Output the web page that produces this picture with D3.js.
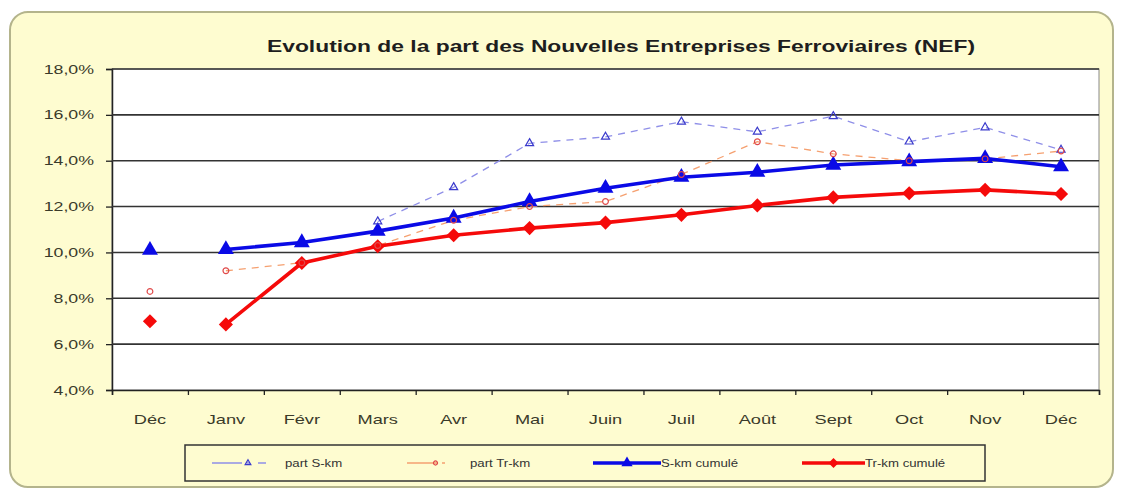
<!DOCTYPE html>
<meta charset="utf-8">
<style>
  body { margin: 0; background: #fff; }
  svg text { font-family: Arial, "Liberation Sans", sans-serif; }
</style>
<body>
<script src="https://d3js.org/d3.v7.min.js"></script>
<script>

// data (values in %)
var months = ["Déc", "Janv", "Févr", "Mars", "Avr", "Mai", "Juin", "Juil", "Août", "Sept", "Oct", "Nov", "Déc"];
var yTicks = [4, 6, 8, 10, 12, 14, 16, 18];
var partSkm    = [null, null, null, 11.35, 12.84, 14.76, 15.04, 15.7, 15.26, 15.94, 14.83, 15.45, 14.47];
var partTrkm   = [8.3, 9.2, 9.55, 10.3, 11.4, 12.0, 12.22, 13.4, 14.83, 14.3, 14.0, 14.08, 14.42];
var skmCumule  = [10.1, 10.13, 10.43, 10.93, 11.5, 12.22, 12.8, 13.28, 13.5, 13.81, 13.96, 14.1, 13.74];
var trkmCumule = [7.0, 6.86, 9.54, 10.27, 10.75, 11.06, 11.3, 11.64, 12.05, 12.4, 12.58, 12.73, 12.55];

var W = 1123, H = 490;
var plot = {left: 112, right: 1099, top: 69, bottom: 390};

var svg = d3.select("body").append("svg")
    .attr("width", W)
    .attr("height", H);

// the source picture is stretched sideways, so widen the text the same way
function widen(sel, f) {
  sel.each(function() {
    var w = this.getComputedTextLength();
    d3.select(this)
      .attr("textLength", w * f)
      .attr("lengthAdjust", "spacingAndGlyphs");
  });
}

// outer rounded frame
svg.append("rect")
    .attr("x", 10).attr("y", 12)
    .attr("width", 1103).attr("height", 475)
    .attr("rx", 18).attr("ry", 18)
    .attr("fill", "#fefcd0")
    .attr("stroke", "#b4b48c")
    .attr("stroke-width", 2);

// title
svg.append("text")
    .attr("x", 621).attr("y", 52)
    .attr("text-anchor", "middle")
    .attr("font-size", "17px")
    .attr("font-weight", "bold")
    .attr("fill", "#1e1e1e")
    .attr("textLength", 708)
    .attr("lengthAdjust", "spacingAndGlyphs")
    .text("Evolution de la part des Nouvelles Entreprises Ferroviaires (NEF)");

// scales
var x = d3.scaleBand()
    .domain(d3.range(months.length))
    .range([plot.left, plot.right]);
var xEdge = d3.scaleLinear()
    .domain([0, months.length])
    .range([plot.left, plot.right]);
var y = d3.scaleLinear()
    .domain([4, 18])
    .range([plot.bottom, plot.top]);
var cx = function(i) { return x(i) + x.bandwidth() / 2; };

// plot area
svg.append("rect")
    .attr("x", plot.left).attr("y", plot.top)
    .attr("width", plot.right - plot.left)
    .attr("height", plot.bottom - plot.top)
    .attr("fill", "#fff")
    .attr("stroke", "#888")
    .attr("stroke-width", 1);

// y axis + gridlines
var yAxis = svg.append("g")
    .attr("transform", "translate(" + plot.left + ",0)")
    .call(d3.axisLeft(y)
        .tickValues(yTicks)
        .tickSize(6)
        .tickPadding(12)
        .tickFormat(function(d) { return d.toFixed(1).replace(".", ",") + "%"; }));
yAxis.selectAll("text")
    .attr("font-size", "12.5px").attr("fill", "#3a3a2a").attr("font-family", null)
    .call(widen, 1.42);
yAxis.select(".domain").attr("stroke", "#222").attr("stroke-width", 1.5);
yAxis.selectAll(".tick line").attr("stroke", "#222").attr("stroke-width", 1.3);

svg.append("g")
    .selectAll("line")
    .data(yTicks.slice(1))
    .join("line")
    .attr("x1", plot.left).attr("x2", plot.right)
    .attr("y1", function(d) { return y(d); })
    .attr("y2", function(d) { return y(d); })
    .attr("stroke", "#333")
    .attr("stroke-width", 1.6);

// x axis: boundary ticks + month labels
var xTicks = svg.append("g")
    .attr("transform", "translate(0," + plot.bottom + ")")
    .call(d3.axisBottom(xEdge)
        .tickValues(d3.range(months.length + 1))
        .tickSize(5)
        .tickFormat(""));
xTicks.select(".domain").attr("stroke", "#222").attr("stroke-width", 1.5);
xTicks.selectAll(".tick line").attr("stroke", "#222").attr("stroke-width", 1.3);

var xLabels = svg.append("g")
    .attr("transform", "translate(0," + plot.bottom + ")")
    .call(d3.axisBottom(x)
        .tickSize(0)
        .tickPadding(25)
        .tickFormat(function(i) { return months[i]; }));
xLabels.select(".domain").remove();
xLabels.selectAll("text")
    .attr("font-size", "13px").attr("fill", "#3a3a2a").attr("font-family", null)
    .call(widen, 1.4);

// series
var series = [
  {name: "part S-km",    values: partSkm,    color: "#8f8fe8", width: 1.3, dash: "7,6", sym: d3.symbolTriangle, size: 28, mfill: "none", mstroke: "#3a3acc", rot: 0},
  {name: "part Tr-km",   values: partTrkm,   color: "#f5a070", width: 1.3, dash: "7,6", sym: d3.symbolCircle,   size: 26, mfill: "none", mstroke: "#e04a4a", rot: 0},
  {name: "S-km cumulé",  values: skmCumule,  color: "#0a0ae6", width: 3.6, dash: null,  sym: d3.symbolTriangle, size: 110, mfill: "#0a0ae6", mstroke: "none", rot: 0},
  {name: "Tr-km cumulé", values: trkmCumule, color: "#f50a0a", width: 3.6, dash: null,  sym: d3.symbolSquare,   size: 100, mfill: "#f50a0a", mstroke: "none", rot: 45}
];

// lines start in Janv; the first Déc stands alone
var line = d3.line()
    .defined(function(d, i) { return i > 0 && d != null; })
    .x(function(d, i) { return cx(i); })
    .y(function(d) { return y(d); });

var drawOrder = [series[0], series[1], series[3], series[2]];
drawOrder.forEach(function(s) {
  svg.append("path")
      .datum(s.values)
      .attr("fill", "none")
      .attr("stroke", s.color)
      .attr("stroke-width", s.width)
      .attr("stroke-dasharray", s.dash)
      .attr("stroke-linejoin", "round")
      .attr("d", line);
});

[series[3], series[2], series[0], series[1]].forEach(function(s) {
  var pts = s.values.map(function(v, i) { return {v: v, i: i}; })
      .filter(function(p) { return p.v != null; });
  svg.append("g")
    .selectAll("path")
    .data(pts)
    .join("path")
    .attr("d", d3.symbol().type(s.sym).size(s.size))
    .attr("transform", function(p) {
      return "translate(" + cx(p.i) + "," + y(p.v) + ") rotate(" + s.rot + ")";
    })
    .attr("fill", s.mfill)
    .attr("stroke", s.mstroke)
    .attr("stroke-width", 1.2);
});

// legend
var legend = svg.append("g");
legend.append("rect")
    .attr("x", 185).attr("y", 445)
    .attr("width", 800).attr("height", 36)
    .attr("fill", "#fefcd0")
    .attr("stroke", "#333")
    .attr("stroke-width", 1.5);

var legendPos = [
  {x1: 212, x2: 272, tx: 285},
  {x1: 407, x2: 452, tx: 470},
  {x1: 593, x2: 661, tx: 661},
  {x1: 802, x2: 865, tx: 865}
];
series.forEach(function(s, k) {
  var p = legendPos[k], ly = 463;
  legend.append("line")
      .attr("x1", p.x1).attr("x2", p.x2)
      .attr("y1", ly).attr("y2", ly)
      .attr("stroke", s.color)
      .attr("stroke-width", s.width)
      .attr("stroke-dasharray", s.dash ? "30,5,3,8,8" : null);
  legend.append("path")
      .attr("d", d3.symbol().type(s.sym).size(s.size * 0.5))
      .attr("transform", "translate(" + ((p.x1 + p.x2) / 2 + (s.dash ? 6 : 0)) + "," + ly + ") rotate(" + s.rot + ")")
      .attr("fill", s.mfill)
      .attr("stroke", s.mstroke)
      .attr("stroke-width", 1.2);
  legend.append("text")
      .attr("x", p.tx).attr("y", ly + 4)
      .attr("font-size", "11px")
      .attr("fill", "#333")
      .text(s.name)
      .call(widen, 1.2);
});

</script>
</body>
